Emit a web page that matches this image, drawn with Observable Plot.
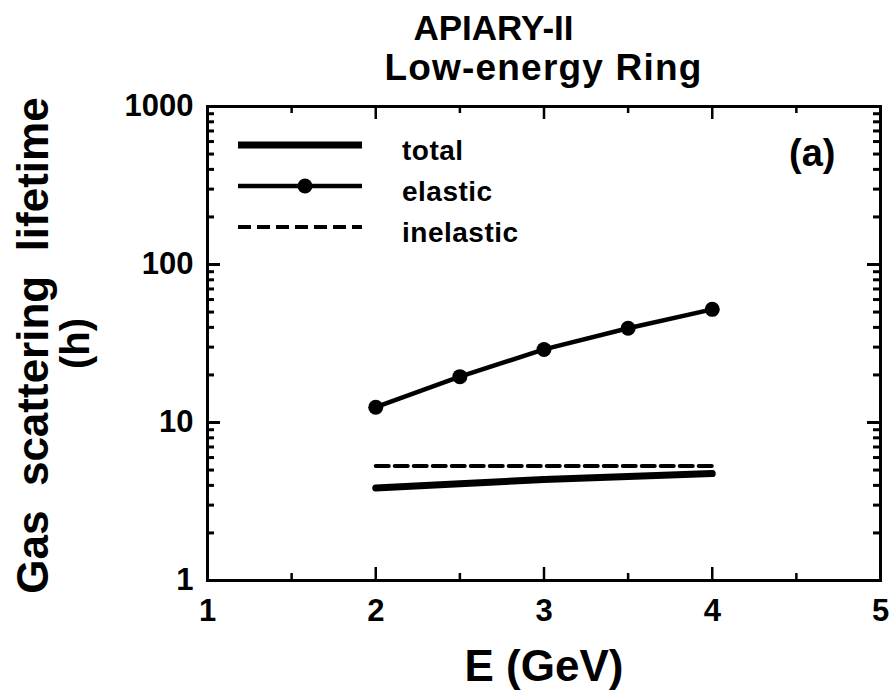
<!DOCTYPE html>
<html>
<head>
<meta charset="utf-8">
<script src="https://cdn.jsdelivr.net/npm/d3@7"></script>
<script src="https://cdn.jsdelivr.net/npm/@observablehq/plot@0.6"></script>
<style>
  body { margin: 0; background: #fff; font-family: "Liberation Sans", Arial, sans-serif; }
  #wrap { position: relative; width: 889px; height: 697px; }
  #title { position: absolute; left: 207px; top: 0; width: 673px; box-sizing: border-box; padding-top: 9px;
           text-align: center; font-weight: bold; color: #000; z-index: 2; }
  #title .l1 { font-size: 35px; line-height: 38px; padding-right: 100px; }
  #title .l2 { font-size: 37px; line-height: 42px; letter-spacing: 1.2px; }
  #chart { position: absolute; left: 0; top: 0; }
</style>
</head>
<body>
<div id="wrap">
<div id="chart"></div>
<div id="title"><div class="l1">APIARY-II</div><div class="l2">Low-energy Ring</div></div>
</div>
<script>
// ---- data ----
const energy    = [2, 2.5, 3, 3.5, 4];          // E (GeV)
const elastic   = [12.5, 19.5, 29, 39.5, 52];   // h
const inelastic = [5.3, 5.3, 5.3, 5.3, 5.3];    // h
const total     = [3.85, 4.1, 4.35, 4.55, 4.75];// h
const seriesNames = ["total", "elastic", "inelastic"];
const xMajor = [1, 2, 3, 4, 5];
const xMinor = [1.5, 2.5, 3.5, 4.5];
const yMajor = [1, 10, 100, 1000];
const yMinor = [2, 3, 4, 5, 6, 7, 8, 9, 20, 30, 40, 50, 60, 70, 80, 90, 200, 300, 400, 500, 600, 700, 800, 900];
const panelLabel = "(a)";
const xLabel = "E (GeV)";
const yLabel = "Gas  scattering  lifetime";
const yUnit = "(h)";

const rows = energy.map((e, i) => ({E: e, total: total[i], elastic: elastic[i], inelastic: inelastic[i]}));

const W = 889, H = 697, mL = 207, mR = 9, mT = 106, mB = 117;
const frameW = W - mL - mR, frameH = H - mT - mB;

const style = {
  total:     {strokeWidth: 7, dash: null, dot: false},
  elastic:   {strokeWidth: 4.5, dash: null, dot: true, r: 7.5},
  inelastic: {strokeWidth: 4, dash: "13,6", dot: false}
};

function legend(index, scales, values, dims) {
  const g = d3.create("svg:g")
    .attr("font-size", 28).attr("font-weight", "bold")
    .attr("font-family", '"Liberation Sans", Arial, sans-serif');
  const x0 = dims.marginLeft, y0 = dims.marginTop;
  seriesNames.forEach((name, i) => {
    const s = style[name];
    const y = y0 + 39 + i * 41;
    g.append("line")
      .attr("x1", x0 + 31).attr("x2", x0 + 155).attr("y1", y).attr("y2", y)
      .attr("stroke", "#000").attr("stroke-width", s.strokeWidth)
      .attr("stroke-dasharray", s.dash);
    if (s.dot) g.append("circle").attr("cx", x0 + 98).attr("cy", y).attr("r", s.r).attr("fill", "#000");
    g.append("text").attr("x", x0 + 195).attr("y", y + 15).attr("fill", "#000")
      .attr("text-anchor", "start").attr("letter-spacing", 0.5).text(name);
  });
  return g.node();
}

const chart = Plot.plot({
  width: W, height: H,
  marginLeft: mL, marginRight: mR, marginTop: mT, marginBottom: mB,
  style: {fontFamily: '"Liberation Sans", Arial, sans-serif', fontWeight: "bold", color: "#000", background: "#fff"},
  x: {type: "linear", domain: [1, 5]},
  y: {type: "log", domain: [1, 1000]},
  marks: [
    // inward ticks
    Plot.tickX(xMajor, {x: d => d, insetTop: frameH - 13, strokeWidth: 2.5}),
    Plot.tickX(xMinor, {x: d => d, insetTop: frameH - 7, strokeWidth: 2.5}),
    Plot.tickX(xMajor, {x: d => d, insetBottom: frameH - 13, strokeWidth: 2.5}),
    Plot.tickX(xMinor, {x: d => d, insetBottom: frameH - 7, strokeWidth: 2.5}),
    Plot.tickY(yMajor, {y: d => d, insetRight: frameW - 13, strokeWidth: 3}),
    Plot.tickY(yMinor, {y: d => d, insetRight: frameW - 7, strokeWidth: 3}),
    Plot.tickY(yMajor, {y: d => d, insetLeft: frameW - 13, strokeWidth: 3}),
    Plot.tickY(yMinor, {y: d => d, insetLeft: frameW - 7, strokeWidth: 3}),
    Plot.frame({stroke: "#000", strokeWidth: 3}),
    Plot.axisX(xMajor, {tickSize: 0, tickPadding: 18, fontSize: 31, tickFormat: d => String(d), label: null}),
    Plot.axisY(yMajor, {tickSize: 0, tickPadding: 14, fontSize: 31, tickFormat: d => String(d), label: null}),
    // series
    Plot.line(rows, {x: "E", y: "inelastic", stroke: "#000", strokeWidth: style.inelastic.strokeWidth, strokeDasharray: style.inelastic.dash}),
    Plot.line(rows, {x: "E", y: "total", stroke: "#000", strokeWidth: style.total.strokeWidth, strokeLinecap: "round"}),
    Plot.line(rows, {x: "E", y: "elastic", stroke: "#000", strokeWidth: style.elastic.strokeWidth}),
    Plot.dot(rows, {x: "E", y: "elastic", r: style.elastic.r, fill: "#000"}),
    // texts
    Plot.text([panelLabel], {frameAnchor: "top-right", dx: -45, dy: 33, fontSize: 38, fill: "#000"}),
    Plot.text([xLabel], {frameAnchor: "bottom", dy: 100, fontSize: 44, fill: "#000", textAnchor: "middle"}),
    Plot.text([yLabel], {frameAnchor: "left", dx: -174, dy: 2, rotate: -90, textAnchor: "middle", fontSize: 44, fill: "#000"}),
    Plot.text([yUnit], {frameAnchor: "left", dx: -131, rotate: -90, textAnchor: "middle", fontSize: 40, fill: "#000"}),
    legend
  ]
});
document.getElementById("chart").appendChild(chart);
</script>
</body>
</html>
